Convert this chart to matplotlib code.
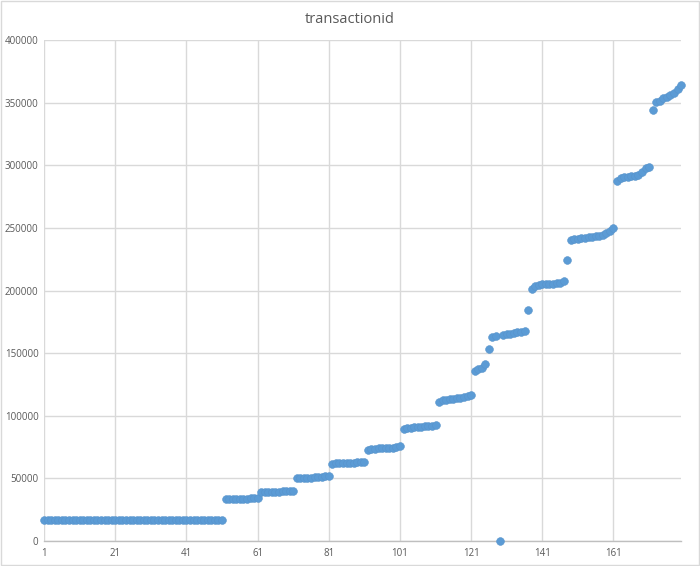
import matplotlib.pyplot as plt
import numpy as np

plt.rcParams['font.family'] = ['Open Sans', 'DejaVu Sans']

title = "transactionid"

# values, one per row (row 1 .. 180)
transaction_ids = [
    # rows 1-24
    16500, 16500, 16500, 16500, 16500, 16500, 16500, 16500, 16500, 16500,
    16500, 16500, 16500, 16500, 16500, 16500, 16500, 16500, 16500, 16500,
    16500, 16500, 16500, 16500,
    # rows 25-51
    17000, 17000, 17000, 17000, 17100, 17100, 17100, 17100, 17100, 17100,
    17100, 17100, 17100, 17100, 17200, 17200, 17200, 17200, 17200, 17200,
    17200, 17200, 17200, 17200, 17200, 17200, 17200,
    # rows 52-61
    33300, 33500, 33600, 33700, 33800, 33900, 34000, 34200, 34400, 34700,
    # rows 62-71
    38900, 39100, 39300, 39400, 39500, 39600, 39800, 39900, 40000, 40200,
    # rows 72-81
    50400, 50500, 50500, 50600, 50700, 50900, 51100, 51300, 51600, 52100,
    # rows 82-91
    61700, 62000, 62200, 62300, 62500, 62600, 62700, 62800, 62900, 63000,
    # rows 92-101
    72600, 73500, 73800, 74000, 74200, 74300, 74500, 74700, 75000, 75800,
    # rows 102-111
    89600, 90300, 90600, 90800, 91000, 91300, 91600, 92000, 92300, 92800,
    # rows 112-121
    111200, 112500, 113000, 113300, 113600, 114000, 114500, 115000, 115800, 116500,
    # rows 122-129
    135700, 137200, 138300, 141500, 153200, 163000, 163800, 0,
    # rows 130-137
    164300, 165000, 165600, 166100, 166600, 167000, 167500, 184900,
    # rows 138-148
    201600, 203600, 204500, 205000, 205200, 205400, 205600, 205800, 206200, 207700,
    224500,
    # rows 149-161
    240800, 241000, 241300, 241700, 242200, 242500, 242800, 243400, 243800, 244800,
    246000, 247500, 250000,
    # rows 162-172
    287500, 290000, 290600, 291000, 291300, 291700, 292300, 294500, 298200, 298500,
    344500,
    # rows 173-180
    350500, 351100, 353600, 354900, 356000, 357500, 361000, 364500,
]

x_labels = [1, 21, 41, 61, 81, 101, 121, 141, 161]
y_labels = [0, 50000, 100000, 150000, 200000, 250000, 300000, 350000, 400000]

rows = np.arange(1, len(transaction_ids) + 1)

fig = plt.figure(figsize=(7, 5.66), dpi=100)
ax = fig.add_axes([0.063, 0.044, 0.910, 0.885])

ax.plot(rows, transaction_ids, 'o', color='#5B9BD5', markersize=5.6,
        markeredgewidth=0.4, markeredgecolor='#5893CB', clip_on=False, zorder=3)

ax.set_xlim(1, len(transaction_ids))
ax.set_ylim(0, 400000)
ax.set_xticks(x_labels)
ax.set_xticklabels([str(v) for v in x_labels])
ax.set_yticks(y_labels)
ax.set_yticklabels([str(v) for v in y_labels])

ax.grid(True, color='#D9D9D9', linewidth=1)
ax.set_axisbelow(True)
for side in ['top', 'right', 'left']:
    ax.spines[side].set_visible(False)
ax.spines['bottom'].set_color('#BFBFBF')
ax.spines['bottom'].set_linewidth(1)

ax.tick_params(length=0, labelsize=7, labelcolor='#595959')
ax.tick_params(axis='y', pad=4)
ax.tick_params(axis='x', pad=5)

fig.suptitle(title, y=0.978, fontsize=10.5, color='#595959')

# light chart-area border like the original
fig.add_artist(plt.Rectangle((0.001, 0.001), 0.998, 0.998, transform=fig.transFigure,
                             fill=False, edgecolor='#D9D9D9', linewidth=1))

fig.savefig('out.png', dpi=100)
